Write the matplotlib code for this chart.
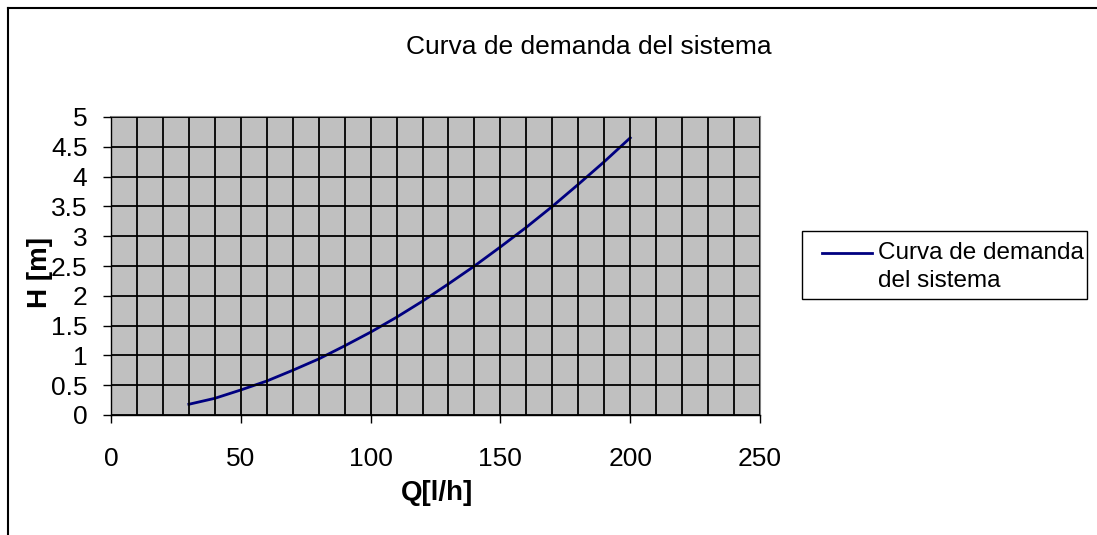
import numpy as np
import matplotlib.pyplot as plt
from matplotlib.lines import Line2D
from matplotlib.patches import Rectangle

plt.rcParams['font.family'] = ['Liberation Sans', 'DejaVu Sans']

# Data
q_lh = [30, 40, 50, 60, 70, 80, 90, 100, 110, 120, 130, 140, 150,
        160, 170, 180, 190, 200]
h_m = [0.18, 0.28, 0.42, 0.57, 0.75, 0.94, 1.16, 1.39, 1.64, 1.91,
       2.20, 2.50, 2.82, 3.15, 3.50, 3.87, 4.25, 4.65]

x_major = [0, 50, 100, 150, 200, 250]
y_major = [0, 0.5, 1, 1.5, 2, 2.5, 3, 3.5, 4, 4.5, 5]

W, H = 1097, 535
fig = plt.figure(figsize=(W / 100, H / 100), dpi=100)


def fx(px):
    return px / W


def fy(py):
    return 1 - py / H


# outer chart frame (top and left visible)
fig.add_artist(Line2D([fx(8), fx(8)], [0, fy(8)], color='black', lw=1.5))
fig.add_artist(Line2D([fx(8), 1], [fy(8), fy(8)], color='black', lw=1.5))

left, right, top, bottom = 111, 760, 117, 415
ax = fig.add_axes([fx(left), fy(bottom), (right - left) / W, (bottom - top) / H])
ax.set_facecolor('#C0C0C0')

line_color = '#000080'
ax.plot(q_lh, h_m, color=line_color, lw=2)

ax.set_xlim(0, 250)
ax.set_ylim(0, 5)
ax.set_xticks(x_major)
ax.set_xticks(np.arange(0, 251, 10), minor=True)
ax.set_yticks(y_major)
ax.set_yticklabels(['0', '0.5', '1', '1.5', '2', '2.5', '3', '3.5', '4', '4.5', '5'])

ax.grid(True, which='both', color='black', lw=1.3)
ax.set_axisbelow(False)
ax.tick_params(axis='x', which='major', length=6, width=1, color='black',
               labelsize=19, pad=17)
ax.tick_params(axis='x', which='minor', length=0)
ax.tick_params(axis='y', length=6, width=1, color='black', labelsize=19, pad=11)

for s in ['top', 'right']:
    ax.spines[s].set_color('#808080')
    ax.spines[s].set_linewidth(1.5)
for s in ['left', 'bottom']:
    ax.spines[s].set_color('black')
    ax.spines[s].set_linewidth(1)

fig.text(fx(437), fy(493), 'Q[l/h]', fontsize=20, fontweight='bold',
         ha='center', va='center')
fig.text(fx(40), fy(272), 'H [m]', rotation=90, fontsize=20,
         fontweight='bold', ha='center', va='center')

fig.text(fx(589), fy(47), 'Curva de demanda del sistema', fontsize=19,
         ha='center', va='center')

# legend box drawn by hand to match the original placement
fig.add_artist(Rectangle((fx(802), fy(299)), (1087 - 802) / W, (299 - 231) / H,
                         transform=fig.transFigure, facecolor='white',
                         edgecolor='black', lw=1))
fig.add_artist(Line2D([fx(822), fx(872)], [fy(253), fy(253)],
                      color=line_color, lw=2))
fig.text(fx(878), fy(253), 'Curva de demanda', fontsize=17.5,
         ha='left', va='center')
fig.text(fx(878), fy(281), 'del sistema', fontsize=17.5,
         ha='left', va='center')

fig.savefig('out.png', dpi=100)
